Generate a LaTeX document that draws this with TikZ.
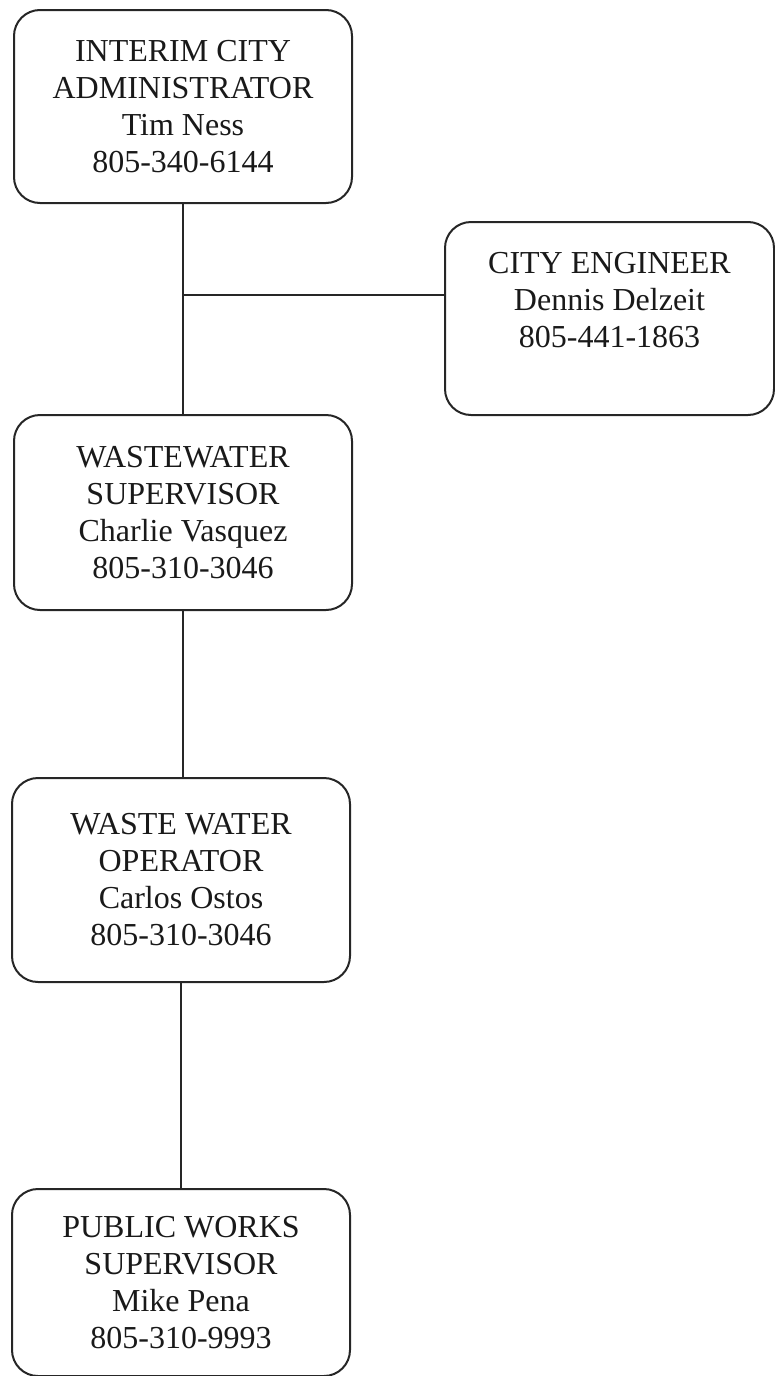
\documentclass[tikz,border=0pt]{standalone}
\usepackage{fontspec}
\setmainfont{Liberation Serif}
\begin{document}
\begin{tikzpicture}[x=1pt,y=-1pt,
  box/.style={draw=black!85, line width=2pt, rounded corners=26pt, align=center,
    inner sep=0pt, font=\fontsize{32}{37}\selectfont, text=black!90},
  link/.style={draw=black!85, line width=2pt}]
\useasboundingbox (0,0) rectangle (775,1376);
\node[box, minimum width=338pt, minimum height=193pt] (admin) at (183,106.5)
  {INTERIM CITY\\ADMINISTRATOR\\Tim Ness\\805-340-6144};
\node[box, minimum width=329pt, minimum height=193pt] (eng) at (609.5,318.5)
  {CITY ENGINEER\\Dennis Delzeit\\805-441-1863\\\mbox{}};
\node[box, minimum width=338pt, minimum height=195pt] (wws) at (183,512.5)
  {WASTEWATER\\SUPERVISOR\\Charlie Vasquez\\805-310-3046};
\node[box, minimum width=338pt, minimum height=204pt] (wwo) at (181,880)
  {WASTE WATER\\OPERATOR\\Carlos Ostos\\805-310-3046};
\node[box, minimum width=338pt, minimum height=187pt] (pws) at (181,1282.5)
  {PUBLIC WORKS\\SUPERVISOR\\Mike Pena\\805-310-9993};
\coordinate (j) at (183,295);
\draw[link] (admin.south) -- (wws.north);
\draw[link] (j) -- (j -| eng.west);
\draw[link] (wws.south) -- (wws.south |- wwo.north);
\draw[link] (wwo.south) -- (pws.north);
\end{tikzpicture}
\end{document}
